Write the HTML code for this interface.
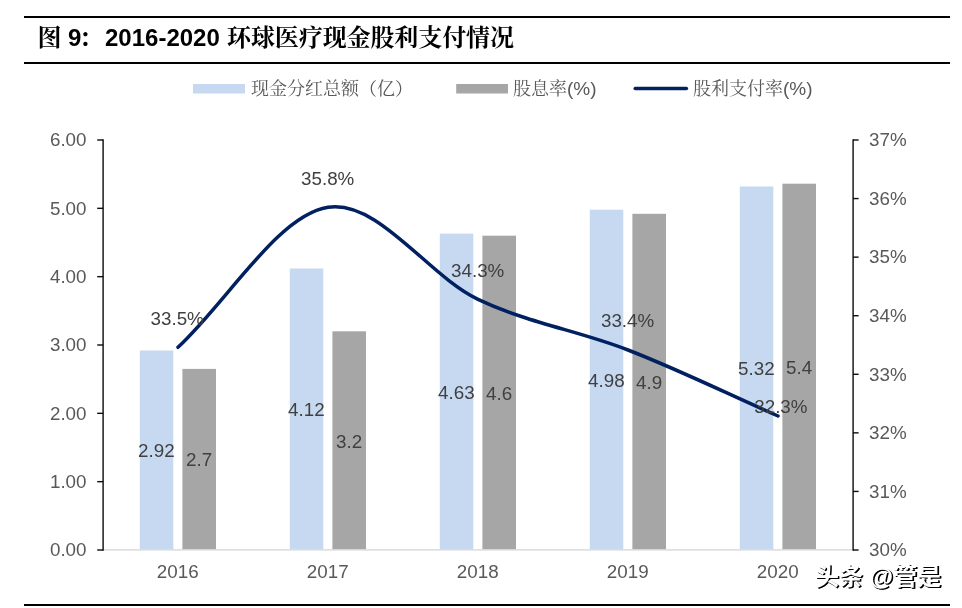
<!DOCTYPE html>
<html lang="zh-CN">
<head>
<meta charset="utf-8">
<title>图 9：2016-2020 环球医疗现金股利支付情况</title>
<style>
html,body{margin:0;padding:0;background:#fff;}
body{width:962px;height:608px;overflow:hidden;}
svg{display:block;}
text{font-family:"Liberation Sans","Noto Serif CJK SC",sans-serif;}
.t{font-size:24px;font-weight:bold;fill:#000;}
.ax{font-size:18.8px;fill:#595959;}
.dl{font-size:18.8px;fill:#404040;}
.lg{font-size:18px;fill:#595959;}
.wm{font-family:"Liberation Sans","Noto Sans CJK SC",sans-serif;font-size:24px;font-weight:bold;fill:#fff;}
.la{font-size:19px;}
</style>
</head>
<body>
<svg width="962" height="608" viewBox="0 0 962 608">
<rect x="0" y="0" width="962" height="608" fill="#ffffff"/>
<rect x="24" y="16" width="926" height="2" fill="#000"/>
<rect x="24" y="62" width="926" height="2" fill="#000"/>
<rect x="24" y="604" width="926" height="2" fill="#000"/>
<text class="t" x="37.5" y="46.1">图</text>
<text class="t" x="68" y="46.1">9</text>
<text class="t" x="79" y="46.1">：</text>
<text class="t" x="105" y="46.1">2016-2020</text>
<text class="t" x="227" y="46.1" textLength="287" lengthAdjust="spacing">环球医疗现金股利支付情况</text>

<rect x="193" y="84" width="52" height="9.5" fill="#c6d9f1"/>
<text class="lg" x="251" y="95">现金分红总额（亿）</text>
<rect x="456.2" y="84" width="51.8" height="9.5" fill="#a6a6a6"/>
<text class="lg" x="513" y="95">股息率<tspan class="la">(%)</tspan></text>
<line x1="635.2" y1="88.6" x2="686.4" y2="88.6" stroke="#002060" stroke-width="3.5" stroke-linecap="round"/>
<text class="lg" x="693" y="95">股利支付率<tspan class="la">(%)</tspan></text>
<rect x="139.8" y="350.5" width="33.5" height="199.0" fill="#c6d9f1"/>
<rect x="182.4" y="368.9" width="33.6" height="180.6" fill="#a6a6a6"/>
<rect x="289.8" y="268.5" width="33.5" height="281.0" fill="#c6d9f1"/>
<rect x="332.4" y="331.3" width="33.6" height="218.2" fill="#a6a6a6"/>
<rect x="439.8" y="233.6" width="33.5" height="315.9" fill="#c6d9f1"/>
<rect x="482.4" y="235.7" width="33.6" height="313.8" fill="#a6a6a6"/>
<rect x="589.8" y="209.7" width="33.5" height="339.8" fill="#c6d9f1"/>
<rect x="632.4" y="213.8" width="33.6" height="335.7" fill="#a6a6a6"/>
<rect x="739.8" y="186.5" width="33.5" height="363.0" fill="#c6d9f1"/>
<rect x="782.4" y="183.7" width="33.6" height="365.8" fill="#a6a6a6"/>
<rect x="103" y="549.2" width="750" height="1.4" fill="#d9d9d9"/>
<rect x="102.4" y="139.3" width="1.4" height="411.4" fill="#0d0d0d"/>
<rect x="852.4" y="139.3" width="1.4" height="411.4" fill="#0d0d0d"/>
<rect x="97.2" y="549.30" width="6" height="1.4" fill="#0d0d0d"/>
<text class="ax" x="86.5" y="556.2" text-anchor="end">0.00</text>
<rect x="97.2" y="480.97" width="6" height="1.4" fill="#0d0d0d"/>
<text class="ax" x="86.5" y="487.9" text-anchor="end">1.00</text>
<rect x="97.2" y="412.63" width="6" height="1.4" fill="#0d0d0d"/>
<text class="ax" x="86.5" y="419.5" text-anchor="end">2.00</text>
<rect x="97.2" y="344.30" width="6" height="1.4" fill="#0d0d0d"/>
<text class="ax" x="86.5" y="351.2" text-anchor="end">3.00</text>
<rect x="97.2" y="275.97" width="6" height="1.4" fill="#0d0d0d"/>
<text class="ax" x="86.5" y="282.9" text-anchor="end">4.00</text>
<rect x="97.2" y="207.63" width="6" height="1.4" fill="#0d0d0d"/>
<text class="ax" x="86.5" y="214.5" text-anchor="end">5.00</text>
<rect x="97.2" y="139.30" width="6" height="1.4" fill="#0d0d0d"/>
<text class="ax" x="86.5" y="146.2" text-anchor="end">6.00</text>
<rect x="853" y="549.30" width="5.6" height="1.4" fill="#0d0d0d"/>
<text class="ax" x="869" y="556.2">30%</text>
<rect x="853" y="490.73" width="5.6" height="1.4" fill="#0d0d0d"/>
<text class="ax" x="869" y="497.6">31%</text>
<rect x="853" y="432.16" width="5.6" height="1.4" fill="#0d0d0d"/>
<text class="ax" x="869" y="439.1">32%</text>
<rect x="853" y="373.59" width="5.6" height="1.4" fill="#0d0d0d"/>
<text class="ax" x="869" y="380.5">33%</text>
<rect x="853" y="315.01" width="5.6" height="1.4" fill="#0d0d0d"/>
<text class="ax" x="869" y="321.9">34%</text>
<rect x="853" y="256.44" width="5.6" height="1.4" fill="#0d0d0d"/>
<text class="ax" x="869" y="263.3">35%</text>
<rect x="853" y="197.87" width="5.6" height="1.4" fill="#0d0d0d"/>
<text class="ax" x="869" y="204.8">36%</text>
<rect x="853" y="139.30" width="5.6" height="1.4" fill="#0d0d0d"/>
<text class="ax" x="869" y="146.2">37%</text>
<text class="dl" x="156.4" y="457.0" text-anchor="middle">2.92</text>
<text class="dl" x="199.1" y="466.3" text-anchor="middle">2.7</text>
<text class="ax" x="177.7" y="578" text-anchor="middle">2016</text>
<text class="dl" x="306.4" y="416.0" text-anchor="middle">4.12</text>
<text class="dl" x="349.1" y="447.5" text-anchor="middle">3.2</text>
<text class="ax" x="327.7" y="578" text-anchor="middle">2017</text>
<text class="dl" x="456.4" y="398.6" text-anchor="middle">4.63</text>
<text class="dl" x="499.1" y="399.6" text-anchor="middle">4.6</text>
<text class="ax" x="477.7" y="578" text-anchor="middle">2018</text>
<text class="dl" x="606.4" y="386.7" text-anchor="middle">4.98</text>
<text class="dl" x="649.1" y="388.7" text-anchor="middle">4.9</text>
<text class="ax" x="627.7" y="578" text-anchor="middle">2019</text>
<text class="dl" x="756.4" y="375.0" text-anchor="middle">5.32</text>
<text class="dl" x="799.1" y="373.7" text-anchor="middle">5.4</text>
<text class="ax" x="777.7" y="578" text-anchor="middle">2020</text>
<path d="M178.0,347.3 C228.0,300.6 278.0,215.3 328.0,207.3 C378.0,199.3 428.0,275.5 478.0,299.3 C528.0,323.1 578.0,330.6 628.0,350.0 C678.0,369.4 728.0,394.0 778.0,416.0" fill="none" stroke="#002060" stroke-width="3.5" stroke-linecap="round" stroke-linejoin="round"/>
<text class="dl" x="177.2" y="325.2" text-anchor="middle">33.5%</text>
<text class="dl" x="327.7" y="185.1" text-anchor="middle">35.8%</text>
<text class="dl" x="477.7" y="277.1" text-anchor="middle">34.3%</text>
<text class="dl" x="627.6" y="326.9" text-anchor="middle">33.4%</text>
<text class="dl" x="780.9" y="413.4" text-anchor="middle">32.3%</text>
<text class="wm" x="815" y="585" style="text-shadow:1px 1px 0 #000,1.6px 1.4px 0 #000">头条 @管是</text>
</svg>
</body>
</html>
